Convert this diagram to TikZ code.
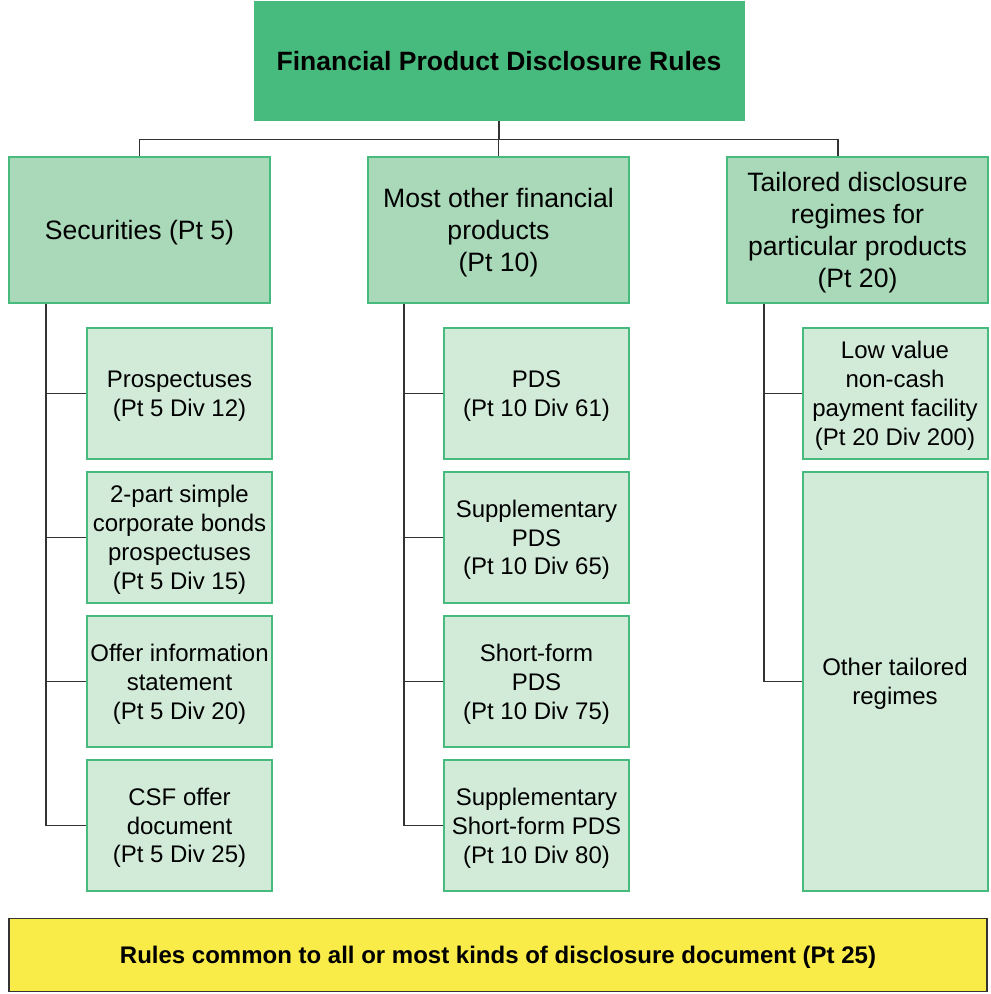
\documentclass[tikz,border=0pt]{standalone}
\usepackage{fontspec}
\setmainfont{Liberation Sans}
\usetikzlibrary{positioning}

\definecolor{rootgreen}{RGB}{71,187,126}
\definecolor{midgreen}{RGB}{169,217,184}
\definecolor{leafgreen}{RGB}{210,235,217}
\definecolor{ruleyellow}{RGB}{249,235,72}
\definecolor{linegray}{RGB}{51,51,51}

\begin{document}
\begin{tikzpicture}[x=0.5pt, y=-0.5pt]
	\tikzset{box/.style={rectangle, inner sep=0pt, align=center},
		root/.style={box, fill=rootgreen, draw=rootgreen, line width=0.5pt, minimum width=245pt, minimum height=59.5pt, font=\fontsize{13.25}{16}\selectfont\bfseries},
		mid/.style={box, fill=midgreen, draw=rootgreen, line width=1pt, minimum width=130.5pt, minimum height=73pt, text depth=-2pt, font=\fontsize{13.3}{16}\selectfont},
		leaf/.style={box, fill=leafgreen, draw=rootgreen, line width=1pt, minimum width=92.5pt, minimum height=65.5pt, text depth=-2.8pt, font=\fontsize{12}{14.4}\selectfont},
		common/.style={box, fill=ruleyellow, draw=linegray, line width=0.75pt, minimum width=489pt, minimum height=36.5pt, text depth=-2.3pt, font=\fontsize{12}{14.4}\selectfont\bfseries},
		conn/.style={draw=linegray, line width=0.75pt}}
	\useasboundingbox (0,0) rectangle (990,994);

	\node[root] (root) at (499,61.5) {Financial Product Disclosure Rules};

	\node[mid] (sec) at (139.5,230) {Securities (Pt 5)};
	\node[mid] (oth) at (498.5,230) {Most other financial\\products\\(Pt 10)};
	\node[mid] (tai) at (857.5,230) {Tailored disclosure\\regimes for\\particular products\\(Pt 20)};
	\coordinate (taitop) at (838,156);

	% securities
	\node[leaf] (sec1) at (179.5,393.5) {Prospectuses\\(Pt 5 Div 12)};
	\node[leaf, below=5.5pt of sec1] (sec2) {2-part simple\\corporate bonds\\prospectuses\\(Pt 5 Div 15)};
	\node[leaf, below=5.5pt of sec2] (sec3) {Offer information\\statement\\(Pt 5 Div 20)};
	\node[leaf, below=5.5pt of sec3] (sec4) {CSF offer\\document\\(Pt 5 Div 25)};

	% other products
	\node[leaf] (oth1) at (536.5,393.5) {PDS\\(Pt 10 Div 61)};
	\node[leaf, below=5.5pt of oth1] (oth2) {Supplementary\\PDS\\(Pt 10 Div 65)};
	\node[leaf, below=5.5pt of oth2] (oth3) {Short-form\\PDS\\(Pt 10 Div 75)};
	\node[leaf, below=5.5pt of oth3] (oth4) {Supplementary\\Short-form PDS\\(Pt 10 Div 80)};

	% tailored regimes
	\node[leaf] (tai1) at (895,393.5) {Low value\\non-cash\\payment facility\\(Pt 20 Div 200)};
	\node[leaf, below=5.5pt of tai1, minimum height=209.5pt] (tai2) {Other tailored\\regimes};

	\node[common] (common) at (498,955) {Rules common to all or most kinds of disclosure document (Pt 25)};

	\draw[conn] (root.south) -- ++(0,18) -| (sec.north);
	\draw[conn] (root.south) -- ++(0,18) -| (oth.north);
	\draw[conn] (root.south) -- ++(0,18) -| (taitop);

	\foreach \n in {1,...,4} {
		\draw[conn] (sec\n.west) -| ([xshift=19pt]sec.south west);
		\draw[conn] (oth\n.west) -| ([xshift=18.5pt]oth.south west);
	}
	\foreach \n in {1,2}
		\draw[conn] (tai\n.west) -| ([xshift=19pt]tai.south west);
\end{tikzpicture}
\end{document}
